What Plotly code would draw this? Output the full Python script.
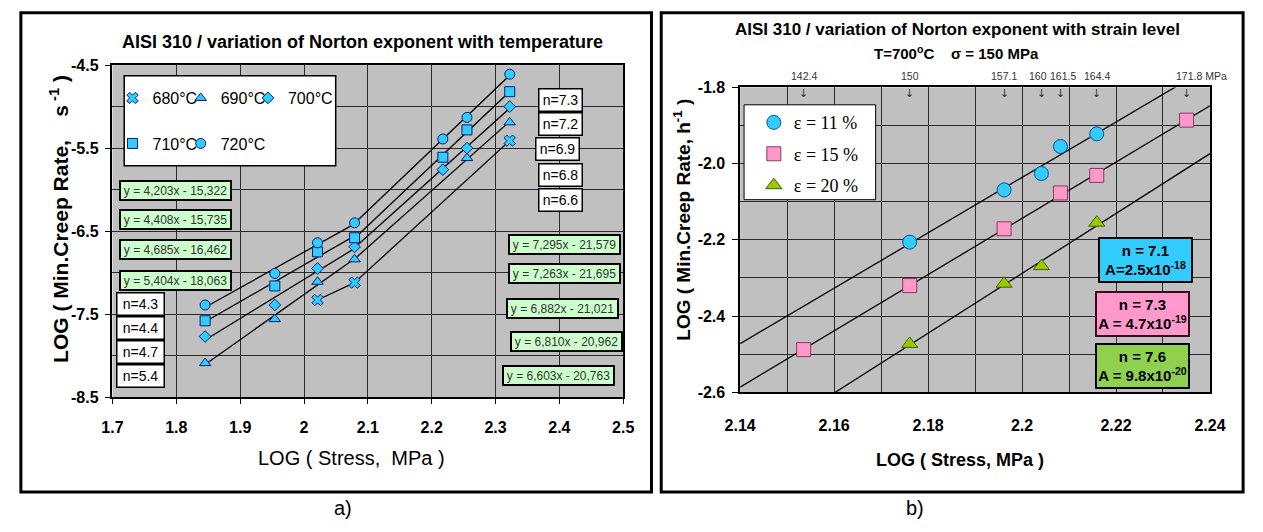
import numpy as np
import plotly.graph_objects as go

W, H = 1263, 532

# ---------------- panel a data ----------------
stress_a = [70, 90, 105, 120, 165, 180, 210]          # MPa
temps = ["680°C", "690°C", "700°C", "710°C", "720°C"]
rate_680 = [None, None, -7.33, -7.12, None, None, -5.41]
rate_690 = [-8.09, -7.56, -7.11, -6.84, None, -5.62, -5.19]
rate_700 = [-7.77, -7.39, -6.95, -6.69, -5.76, -5.50, -5.00]
rate_710 = [-7.58, -7.16, -6.75, -6.58, -5.61, -5.28, -4.82]
rate_720 = [-7.39, -7.01, -6.64, -6.40, -5.39, -5.13, -4.61]
split_stress = 120
eq_low = ["y = 4,203x - 15,322", "y = 4,408x - 15,735", "y = 4,685x - 16,462", "y = 5,404x - 18,063"]
eq_high = ["y = 7,295x - 21,579", "y = 7,263x - 21,695", "y = 6,882x - 21,021",
           "y = 6,810x - 20,962", "y = 6,603x - 20,763"]
n_low = ["n=4.3", "n=4.4", "n=4.7", "n=5.4"]
n_high = ["n=7.3", "n=7.2", "n=6.9", "n=6.8", "n=6.6"]
xticks_a = [1.7, 1.8, 1.9, 2.0, 2.1, 2.2, 2.3, 2.4, 2.5]
xticktext_a = ["1.7", "1.8", "1.9", "2", "2.1", "2.2", "2.3", "2.4", "2.5"]
yticks_a = [-4.5, -5.5, -6.5, -7.5, -8.5]
yticktext_a = ["-4.5", "-5.5", "-6.5", "-7.5", "-8.5"]

# ---------------- panel b data ----------------
strain_labels = ["\u03b5 = 11 %", "\u03b5 = 15 %", "\u03b5 = 20 %"]
stress_11 = [150, 157.1, 160, 161.5, 164.4]
rate_11 = [-2.206, -2.069, -2.026, -1.955, -1.922]
stress_15 = [142.4, 150, 157.1, 161.5, 164.4, 171.8]
rate_15 = [-2.488, -2.320, -2.171, -2.077, -2.031, -1.886]
stress_20 = [150, 157.1, 160, 164.4]
rate_20 = [-2.473, -2.315, -2.269, -2.155]
top_stress = [142.4, 150, 157.1, 160, 161.5, 164.4, 171.8]
top_labels = ["142.4", "150", "157.1", "160", "161.5", "164.4", "171.8 MPa"]
box_texts = ["n = 7.1<br>A=2.5x10<sup>-18</sup>",
             "n = 7.3<br>A = 4.7x10<sup>-19</sup>",
             "n = 7.6<br>A = 9.8x10<sup>-20</sup>"]
xticks_b = [2.14, 2.16, 2.18, 2.20, 2.22, 2.24]
xticktext_b = ["2.14", "2.16", "2.18", "2.2", "2.22", "2.24"]
yticks_b = [-1.8, -2.0, -2.2, -2.4, -2.6]
yticktext_b = ["-1.8", "-2.0", "-2.2", "-2.4", "-2.6"]

# ---------------- helpers ----------------
def px(x):
    return x / W

def py(y):
    return 1 - y / H

ARIAL = "Arial, Liberation Sans, sans-serif"
SERIF = "Times New Roman, Liberation Serif, serif"
GRID = "#2a2a2a"

fig = go.Figure()

# ---------------- panel a traces ----------------
logs_a = np.log10(np.array(stress_a, dtype=float))
series_a = [rate_680, rate_690, rate_700, rate_710, rate_720]
symbols_a = ["x", "triangle-up", "diamond", "square", "circle"]
sizes_a = [10, 10, 9, 10, 10]
legend_ids_a = ["legend", "legend2", "legend4", "legend5", "legend6"]
# marker centre positions of the legend entries (pixels)
legend_pos_a = [(116, 93), (186, 93), (255, 93), (116, 140), (186, 140)]

for rates in series_a:
    for low in (True, False):
        xs, ys = [], []
        for s, lx, r in zip(stress_a, logs_a, rates):
            if r is None:
                continue
            if (low and s <= split_stress) or ((not low) and s >= split_stress):
                xs.append(lx)
                ys.append(r)
        if len(xs) < 2:
            continue
        k, b = np.polyfit(xs, ys, 1)
        xl = np.array([min(xs), max(xs)])
        fig.add_trace(go.Scatter(x=xl, y=k * xl + b, mode="lines",
                                 line=dict(color="black", width=1.3),
                                 showlegend=False, hoverinfo="skip",
                                 xaxis="x", yaxis="y"))

for i, (name, rates) in enumerate(zip(temps, series_a)):
    fig.add_trace(go.Scatter(
        x=logs_a, y=rates, mode="markers", name=name,
        marker=dict(symbol=symbols_a[i], size=sizes_a[i], color="#33CCFF",
                    line=dict(color="#00207a", width=1)),
        legend=legend_ids_a[i],
        xaxis="x", yaxis="y"))

# ---------------- panel b traces ----------------
series_b = [(stress_11, rate_11), (stress_15, rate_15), (stress_20, rate_20)]
colors_b = ["#33CCFF", "#FF99CC", "#99CC00"]
edges_b = ["#00509a", "#8a3a5a", "#4a5a00"]
symbols_b = ["circle", "square", "triangle-up"]
sizes_b = [14, 14, 14]

xline = np.array([2.14, 2.24])
for st, rt in series_b:
    lx = np.log10(np.array(st, dtype=float))
    k, b = np.polyfit(lx, rt, 1)
    fig.add_trace(go.Scatter(x=xline, y=k * xline + b, mode="lines",
                             line=dict(color="black", width=1.3),
                             showlegend=False, hoverinfo="skip",
                             xaxis="x2", yaxis="y2"))

for i, (st, rt) in enumerate(series_b):
    fig.add_trace(go.Scatter(
        x=np.log10(np.array(st, dtype=float)), y=rt, mode="markers",
        name=strain_labels[i], legend="legend3", legendgroup=f"g{i}",
        marker=dict(symbol=symbols_b[i], size=sizes_b[i], color=colors_b[i],
                    line=dict(color=edges_b[i], width=1)),
        xaxis="x2", yaxis="y2"))

# ---------------- axes ----------------
axis_common = dict(showline=True, linecolor="black", linewidth=1.5, mirror=True,
                   showgrid=True, gridcolor=GRID, gridwidth=1, zeroline=False,
                   tickfont=dict(family=ARIAL, size=16, color="black", weight="bold"))

fig.update_layout(
    xaxis=dict(domain=[px(99), px(623)], range=[1.7, 2.5], anchor="y",
               tickmode="array", tickvals=xticks_a, ticktext=xticktext_a,
               ticks="outside", ticklen=5, tickcolor="black",
               ticklabelstandoff=10, **axis_common),
    yaxis=dict(domain=[py(402), py(59)], range=[-8.5, -4.5], anchor="x",
               tickmode="array", tickvals=yticks_a, ticktext=yticktext_a,
               ticks="outside", ticklen=6, tickcolor="black", ticklabelstandoff=3,
               minor=dict(dtick=0.5, tick0=-4.5, showgrid=True, gridcolor=GRID,
                          gridwidth=1, ticks=""),
               **axis_common),
    xaxis2=dict(domain=[px(743), px(1225)], range=[2.14, 2.24], anchor="y2",
                tickmode="array", tickvals=xticks_b, ticktext=xticktext_b,
                ticks="", ticklabelstandoff=18,
                minor=dict(dtick=0.01, tick0=2.14, showgrid=True, gridcolor=GRID,
                           gridwidth=1, ticks=""),
                **axis_common),
    yaxis2=dict(domain=[py(397), py(82)], range=[-2.6, -1.8], anchor="x2",
                tickmode="array", tickvals=yticks_b, ticktext=yticktext_b,
                ticks="outside", ticklen=6, tickcolor="black", ticklabelstandoff=4,
                minor=dict(dtick=0.1, tick0=-2.6, showgrid=True, gridcolor=GRID,
                           gridwidth=1, ticks=""),
                **axis_common),
)

# ---------------- legends ----------------
MARK_OFF = 17   # legend left edge -> symbol centre (px)
legends = {}
for lid, (mx, my) in zip(legend_ids_a, legend_pos_a):
    legends[lid] = dict(x=px(mx - MARK_OFF), y=py(my), orientation="h",
                        xanchor="left", yanchor="middle",
                        bgcolor="rgba(0,0,0,0)", borderwidth=0, itemsizing="trace",
                        font=dict(family=ARIAL, size=16, color="black"),
                        itemclick=False)
legends["legend3"] = dict(x=px(778 - MARK_OFF - 4), y=py(151), xanchor="left", yanchor="middle",
                          orientation="v", bgcolor="rgba(0,0,0,0)", borderwidth=0,
                          tracegroupgap=5, itemsizing="trace", traceorder="grouped",
                          font=dict(family=SERIF, size=18, color="black"),
                          itemclick=False)
fig.update_layout(**legends)

# ---------------- shapes ----------------
shapes = []
def rect(x0, y0, x1, y1, lw, fill="rgba(0,0,0,0)", color="black"):
    shapes.append(dict(type="rect", xref="paper", yref="paper",
                       x0=px(x0), x1=px(x1), y0=py(y1), y1=py(y0),
                       line=dict(color=color, width=lw), fillcolor=fill, layer="above"))

rect(5, 5, 652, 500, 3)
rect(662, 5, 1259, 500, 3)
rect(111, 70, 328, 163, 1.5, fill="white")
rect(747, 100, 882, 198, 1, fill="white")
fig.update_layout(shapes=shapes)

# ---------------- annotations ----------------
ann = []
def text(x, y, t, size, bold=False, family=ARIAL, color="black", angle=0,
         xanchor="center", yanchor="middle"):
    ann.append(dict(xref="paper", yref="paper", x=px(x), y=py(y), text=t,
                    showarrow=False, textangle=angle, xanchor=xanchor, yanchor=yanchor,
                    font=dict(family=family, size=size, color=color,
                              weight="bold" if bold else "normal")))

def box(x, y, t, w, h, bg, size, bw=1.5, border="black", bold=False, color="black"):
    ann.append(dict(xref="paper", yref="paper", x=px(x), y=py(y), text=t,
                    showarrow=False, xanchor="center", yanchor="middle",
                    width=w, height=h, bgcolor=bg, bordercolor=border,
                    borderwidth=bw, borderpad=0, align="center",
                    font=dict(family=ARIAL, size=size, color=color,
                              weight="bold" if bold else "normal")))

NB = "\u00a0"
# titles
text(355, 35, "AISI 310 / variation of Norton exponent with temperature", 18, bold=True)
text(966, 22, "AISI 310 / variation of Norton exponent with strain level", 17, bold=True)
text(965, 46, "T=700<sup>o</sup>C" + NB * 4 + "\u03c3 = 150 MPa", 15, bold=True)
# axis titles
text(344, 465, "LOG ( Stress," + NB + NB + "MPa )", 20)
text(44, 218, "LOG ( Min.Creep Rate," + NB * 4 + "s<sup> -1</sup> )", 21, bold=True, angle=-90)
text(969, 467, "LOG ( Stress, MPa )", 18, bold=True)
text(683, 219, "LOG ( Min.Creep Rate," + NB + "h<sup>-1</sup> )", 19, bold=True, angle=-90)
# panel labels
text(336, 517, "a)", 20)
text(922, 517, "b)", 20)

# equation boxes (panel a)
for t, yc in zip(eq_low, [189, 218, 249, 281]):
    box(164, yc, t, 109, 17, "#CCFFCC", 12, bw=2, color="#333333")
for t, (xc, yc) in zip(eq_high, [(563, 244), (563, 274), (561, 310), (565, 345), (557, 380)]):
    box(xc, yc, t, 109, 17, "#CCFFCC", 12, bw=2, color="#333333")
# n boxes (panel a)
for t, yc in zip(n_low, [306, 331, 355, 380]):
    box(128, yc, t, 46, 21, "white", 14)
for t, (xc, yc) in zip(n_high, [(559, 95), (559, 120), (556, 146), (559, 172), (559, 198)]):
    box(xc, yc, t, 42, 21, "white", 14)

# panel b stress labels on top
nudge = {"160": -3, "161.5": 3}
for s, lab in zip(top_stress, top_labels):
    xv = float(np.log10(s))
    last = lab.endswith("MPa")
    ann.append(dict(xref="x2", yref="paper", x=xv, y=py(70), text=lab, showarrow=False,
                    xanchor="left" if last else "center",
                    xshift=-13 if last else nudge.get(lab, 0),
                    yanchor="middle", font=dict(family=ARIAL, size=10.5, color="#333333")))
    ann.append(dict(xref="x2", yref="paper", x=xv, y=py(88), text="\u2193", showarrow=False,
                    xanchor="center", yanchor="middle",
                    font=dict(family="DejaVu Sans", size=11, color="#333333")))

# panel b n/A boxes
for t, (xc, yc), bg, bc in zip(box_texts, [(1159, 260), (1156, 316), (1156, 370)],
                               ["#33CCFF", "#FF99CC", "#8FD14F"],
                               ["black", "#3a0a1a", "black"]):
    box(xc, yc, t, 91, 42, bg, 15, bw=2, border=bc, bold=True)

fig.update_layout(annotations=ann)

fig.update_layout(width=W, height=H, margin=dict(l=0, r=0, t=0, b=0),
                  paper_bgcolor="white", plot_bgcolor="#C0C0C0",
                  font=dict(family=ARIAL, color="black"), hovermode=False)

fig.write_html("out.html", config={"displayModeBar": False},
               post_script="document.body.style.margin='0';document.body.style.overflow='hidden';")
